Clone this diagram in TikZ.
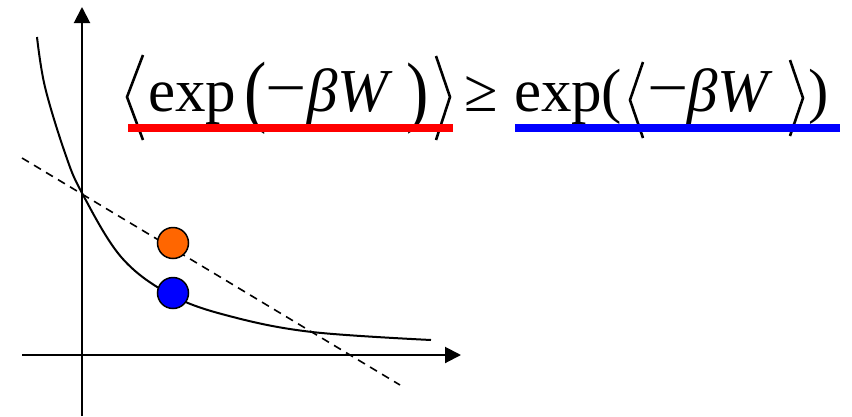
\documentclass[tikz,border=0pt]{standalone}
\usepackage{fontspec}
\usepackage{graphicx}
\setmainfont{Liberation Serif}
\usetikzlibrary{arrows.meta}
\definecolor{dotorange}{RGB}{255,102,0}
\definecolor{barred}{RGB}{255,0,0}
\definecolor{barblue}{RGB}{0,0,255}
\begin{document}
\begin{tikzpicture}[x=1pt,y=-1pt,
  axis/.style={line width=2pt,-{Triangle[length=16pt,width=16pt]}},
  curve/.style={line width=2pt},
  tangent/.style={line width=1.6pt,dash pattern=on 8pt off 6pt},
  dot/.style={circle,draw=black,line width=1.5pt,minimum size=31pt,inner sep=0pt},
  bigtxt/.style={inner sep=0pt,font=\fontsize{61pt}{72pt}\selectfont},
  bracket/.style={line width=2.6pt,line join=miter}
]
\useasboundingbox (0,0) rectangle (852,416);
% axes
\coordinate (yb) at (82,416);
\coordinate (yt) at (82,7);
\coordinate (xl) at (22,355);
\coordinate (xr) at (461,355);
\draw[axis] (yb) -- (yt);
\draw[axis] (xl) -- (xr);
% curve
\draw[curve] plot[smooth,tension=0.6] coordinates {(37,37) (45,87) (65,153) (82,193) (122,258) (173,296) (233,317) (312,332) (431,340)};
% dashed tangent
\coordinate (d1) at (22,158);
\coordinate (d2) at (400,385);
\draw[tangent] (d1) -- (d2);
% dots
\node[dot,fill=dotorange] (od) at (173,243) {};
\node[dot,fill=barblue] (bd) at (173,293) {};
% formula left side
\draw[bracket] (143,55) -- (127,97) -- (143,140);
\node[bigtxt,anchor=base west] (exp1) at (148,111) {exp};
\node[bigtxt] (lp1) at (256,98.5) {\scalebox{1.1}[1.31]{(}};
\node[bigtxt] (mn1) at (286,98) {\scalebox{1.2}[1]{−}};
\node[bigtxt,anchor=base west] (bw1) at (307,111) {\itshape βW};
\node[bigtxt] (rp1) at (418,99) {\scalebox{1.1}[1.29]{)}};
\draw[bracket] (436,56) -- (450,97) -- (436,140);
% relation
\node[bigtxt] (geq) at (481.5,94) {≥};
% formula right side
\node[bigtxt,anchor=base west] (exp2) at (514,111) {exp};
\node[bigtxt,anchor=base] (lp2) at (612,111) {(};
\draw[bracket] (643,62) -- (630,100) -- (643,138);
\node[bigtxt] (mn2) at (668.5,98) {\scalebox{1.2}[1]{−}};
\node[bigtxt,anchor=base west] (bw2) at (687,111) {\itshape βW};
\draw[bracket] (790,60) -- (803,98) -- (790,136);
\node[bigtxt,anchor=base] (rp2) at (819,111) {)};
% underlines
\fill[barred] (128,124) rectangle (453,132);
\fill[barblue] (515,124) rectangle (840,132);
\end{tikzpicture}
\end{document}
